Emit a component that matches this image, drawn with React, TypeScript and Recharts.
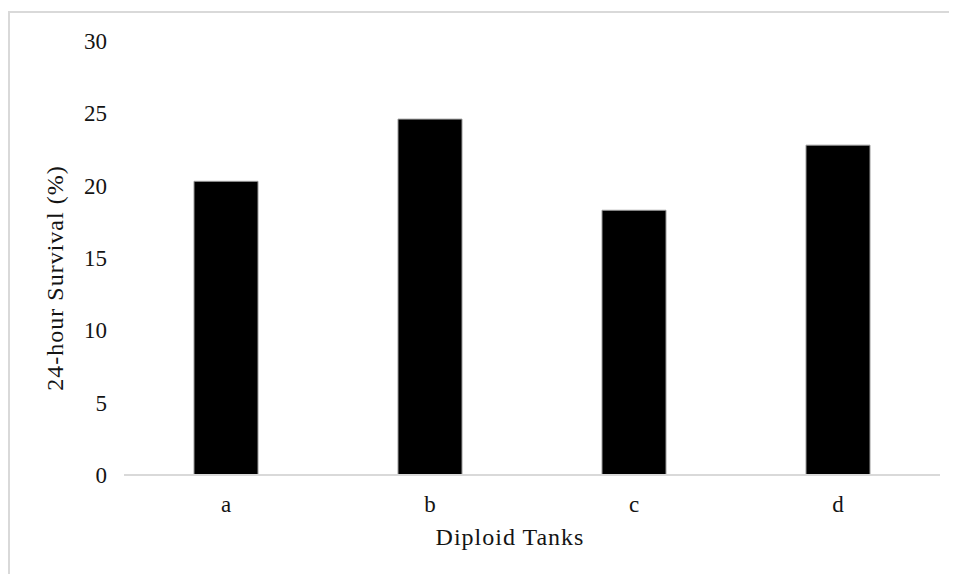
import { BarChart, Bar, XAxis, YAxis, Label } from "recharts";

const tanks = ["a", "b", "c", "d"];
const survival = [20.3, 24.6, 18.3, 22.8];
const yTicks = [0, 5, 10, 15, 20, 25, 30];

const data = tanks.map((tank, i) => ({ tank, survival: survival[i] }));

const font = "'Liberation Serif', 'Times New Roman', serif";
const textColor = "#141414";

export default function App() {
  return (
    <div style={{ position: "relative", width: 949, height: 566, background: "#fff" }}>
      <style>{"html, body { overflow: hidden; }"}</style>
      {/* outer frame: a top line and a left line */}
      <div style={{ position: "absolute", left: 0, top: 3, width: 949, height: 2, background: "#d9d9d9" }} />
      <div style={{ position: "absolute", left: 0, top: 3, width: 2, height: 563, background: "#d9d9d9" }} />
      <div style={{ position: "absolute", left: 0, top: 0 }}>
        <BarChart
          width={949}
          height={566}
          data={data}
          margin={{ top: 33, right: 17, left: 0, bottom: 0 }}
        >
          <XAxis
            dataKey="tank"
            height={99}
            axisLine={{ stroke: "#d9d9d9", strokeWidth: 2 }}
            tickLine={false}
            tickSize={0}
            tickMargin={21}
            tick={{ fill: textColor, fontSize: 23, fontFamily: font }}
          >
            <Label
              content={({ viewBox }: any) => (
                <text
                  x={viewBox.x + viewBox.width / 2 - 22}
                  y={viewBox.y + 70}
                  textAnchor="middle"
                  fill={textColor}
                  fontSize={24}
                  fontFamily={font}
                  letterSpacing={1}
                >
                  Diploid Tanks
                </text>
              )}
            />
          </XAxis>
          <YAxis
            width={116}
            domain={[0, 30]}
            ticks={yTicks}
            axisLine={false}
            tickLine={false}
            tickSize={0}
            tickMargin={17}
            tick={{ fill: textColor, fontSize: 23, fontFamily: font }}
          >
            <Label
              content={({ viewBox }: any) => {
                const cx = 55;
                const cy = viewBox.y + viewBox.height / 2 + 20;
                return (
                  <text
                    x={cx}
                    y={cy}
                    transform={`rotate(-90 ${cx} ${cy})`}
                    textAnchor="middle"
                    fill={textColor}
                    fontSize={24}
                    fontFamily={font}
                    letterSpacing={1}
                  >
                    24-hour Survival (%)
                  </text>
                );
              }}
            />
          </YAxis>
          <Bar
            dataKey="survival"
            fill="#000"
            stroke="#9a9a9a"
            strokeWidth={1}
            barSize={64}
            isAnimationActive={false}
          />
        </BarChart>
      </div>
    </div>
  );
}
